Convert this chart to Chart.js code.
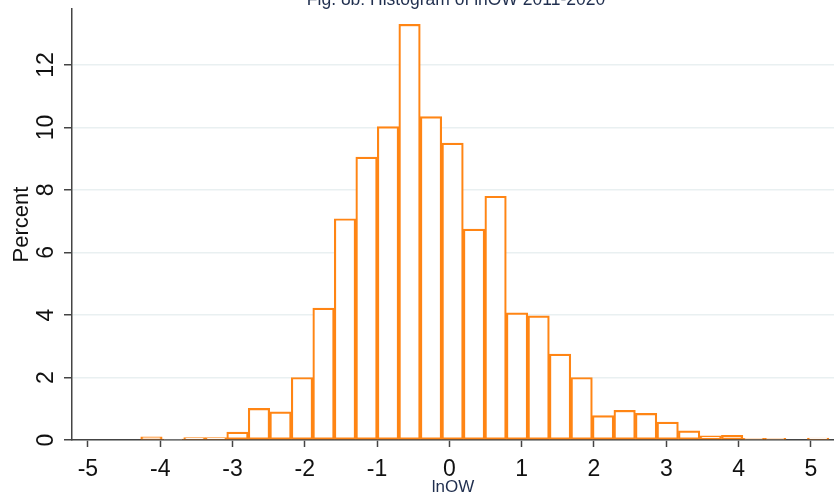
<!DOCTYPE html>
<html>
<head>
<meta charset="utf-8">
<script src="https://cdn.jsdelivr.net/npm/chart.js@4"></script>
<style>
  body { margin: 0; background: #fff; }
  #wrap { width: 834px; height: 494px; }
</style>
</head>
<body>
<div id="wrap"><canvas id="grafico" width="834" height="494"></canvas></div>
<script>
// bin centres of lnOW (bin width about 0.2975)
const binCentres = [-4.121, -3.824, -3.526, -3.229, -2.931, -2.634, -2.336, -2.039,
  -1.741, -1.444, -1.146, -0.849, -0.551, -0.254, 0.044, 0.341,
  0.639, 0.936, 1.234, 1.531, 1.829, 2.126, 2.424, 2.721,
  3.019, 3.316, 3.614, 3.911, 4.209, 4.506, 4.804, 5.101];
// percent of observations in each bin
const percents = [0.1, 0.03, 0.08, 0.08, 0.25, 1.01, 0.9, 2.0,
  4.22, 7.08, 9.05, 10.03, 13.3, 10.35, 9.5, 6.75,
  7.8, 4.07, 3.97, 2.75, 2.0, 0.78, 0.95, 0.85,
  0.57, 0.29, 0.13, 0.15, 0.05, 0.05, 0, 0.06];
const xTicks = [-5, -4, -3, -2, -1, 0, 1, 2, 3, 4, 5];
const yTicks = [0, 2, 4, 6, 8, 10, 12];

const titulo = 'Fig. 8b: Histogram of lnOW 2011-2020';
const fonte = '"Liberation Sans", Arial, sans-serif';

const tituloPlugin = {
  id: 'tituloCortado',
  afterDraw(chart) {
    const ctx = chart.ctx;
    ctx.save();
    ctx.font = '17.5px ' + fonte;
    ctx.fillStyle = '#1f2e4e';
    ctx.textAlign = 'center';
    ctx.textBaseline = 'alphabetic';
    ctx.fillText(titulo, 456, 5);
    ctx.restore();
  }
};

const ctx = document.getElementById('grafico').getContext('2d');

new Chart(ctx, {
  type: 'bar',
  data: {
    datasets: [{
      data: binCentres.map((x, i) => ({ x: x, y: percents[i] })),
      backgroundColor: '#ffffff',
      borderColor: '#ff8514',
      borderWidth: 2.2,
      borderSkipped: false,
      barPercentage: 1,
      categoryPercentage: 1
    }]
  },
  options: {
    responsive: false,
    animation: false,
    layout: { padding: { top: 9, right: 0, left: 0, bottom: 0 } },
    plugins: {
      legend: { display: false },
      tooltip: { enabled: false }
    },
    scales: {
      x: {
        type: 'linear',
        offset: false,
        min: -5.22,
        max: 5.32,
        afterBuildTicks: (s) => { s.ticks = xTicks.map(v => ({ value: v })); },
        afterFit: (s) => { s.height = 54; s.paddingLeft = 0; s.paddingRight = 0; },
        ticks: {
          font: { size: 23, family: fonte },
          color: '#111',
          padding: 9,
          maxRotation: 0,
          includeBounds: false
        },
        grid: {
          offset: false,
          drawOnChartArea: false,
          drawTicks: true,
          tickLength: 7,
          tickColor: '#444',
          tickWidth: 1.5
        },
        border: { color: '#444', width: 1.5 },
        title: {
          display: true,
          text: 'lnOW',
          font: { size: 17, family: fonte },
          color: '#1f2e4e',
          padding: { top: 0, bottom: -4 }
        }
      },
      y: {
        min: 0,
        max: 13.79,
        afterBuildTicks: (s) => { s.ticks = yTicks.map(v => ({ value: v })); },
        afterFit: (s) => { s.width = 72; s.paddingTop = 0; s.paddingBottom = 0; },
        ticks: {
          font: { size: 23, family: fonte },
          color: '#111',
          minRotation: 90,
          maxRotation: 90,
          crossAlign: 'center',
          padding: 5,
          includeBounds: false
        },
        grid: {
          color: '#e9f0f1',
          lineWidth: 1.5,
          tickLength: 8,
          tickColor: '#444',
          tickWidth: 1.5
        },
        border: { color: '#444', width: 1.5 },
        title: {
          display: true,
          text: 'Percent',
          font: { size: 22, family: fonte },
          color: '#111',
          padding: { top: 9, bottom: 0 }
        }
      }
    }
  },
  plugins: [tituloPlugin]
});
</script>
</body>
</html>
